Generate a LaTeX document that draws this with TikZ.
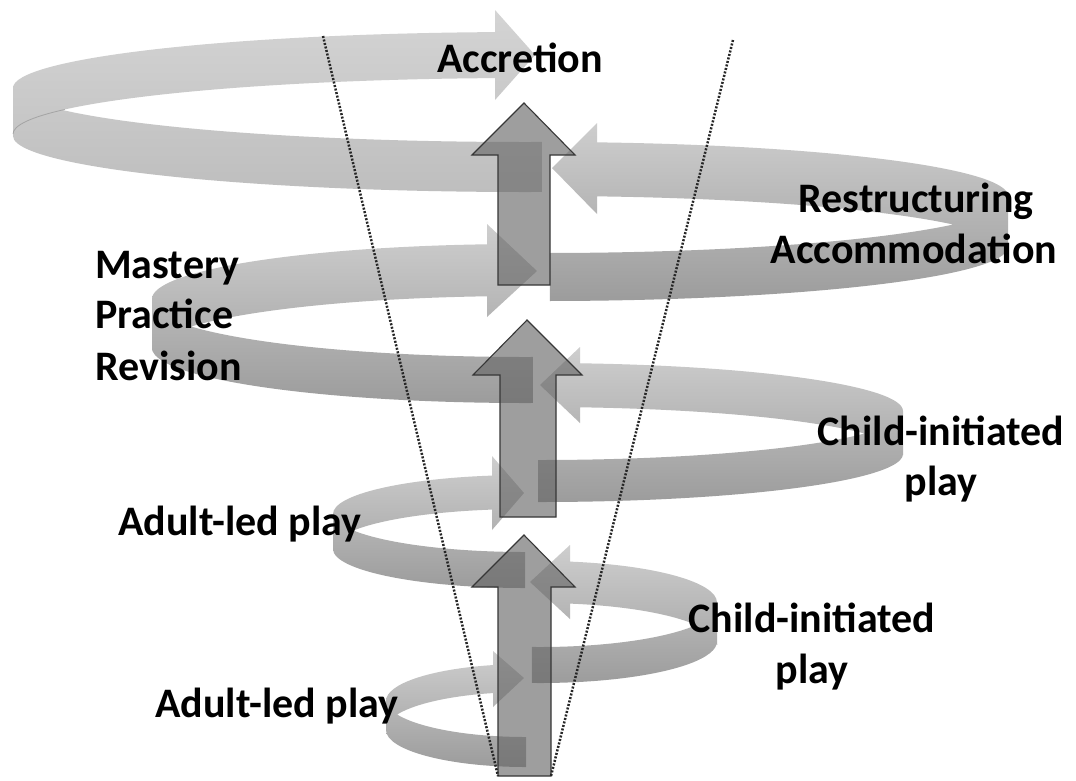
\documentclass[tikz,border=0pt]{standalone}
\usepackage{fontspec}
\setmainfont{Carlito}
\usetikzlibrary{calc}
\definecolor{rlight}{RGB}{206,206,206}
\definecolor{rdark}{RGB}{156,156,156}
\definecolor{rtop}{RGB}{212,212,212}
\definecolor{rtopb}{RGB}{190,190,190}
\definecolor{arrowfill}{RGB}{100,100,100}
\definecolor{arrowline}{RGB}{55,55,55}
\begin{document}
\begin{tikzpicture}[x=1pt,y=1pt,
  ribbon/.style={top color=rlight, bottom color=rdark},
  ribbontop/.style={top color=rtop, bottom color=rtopb},
  uparrow/.style={fill=arrowfill, fill opacity=0.62, draw=arrowline, line width=1.1pt, line join=miter},
  guide/.style={line width=2.5pt, dash pattern=on 2pt off 1.6pt, black!85},
  fold/.style={draw=black!45, line width=0.8pt, draw opacity=0.6},
  txt/.style={font=\bfseries\fontsize{42}{50}\selectfont, inner sep=0pt, text=black}]

\fill[white] (0,0) rectangle (1076,-780);
\useasboundingbox (0,0) rectangle (1076,-780);

% ---------- spiral ribbons ----------
% L1 (bottom, left turn)
\shade[ribbon]
  ($(526,-715)+(270:140 and 37)+(0,15)$) arc[start angle=270,end angle=180,x radius=140pt,y radius=37pt]
     -- ++(0,-30) arc[start angle=180,end angle=270,x radius=140pt,y radius=37pt] -- cycle
  ($(526,-715)+(103.6:140 and 37)+(0,14)$) arc[start angle=103.6,end angle=180,x radius=140pt,y radius=37pt]
     -- ++(0,-28) arc[start angle=180,end angle=103.6,x radius=140pt,y radius=37pt] -- cycle
  (493,-651) -- (493,-707) -- (524,-678) -- cycle;

% R1 (right turn)
\shade[ribbon]
  ($(540,-623.5)+(0:177 and 41.5)+(0,18)$) arc[start angle=360,end angle=267.4,x radius=177pt,y radius=41.5pt]
     -- ++(0,-36) arc[start angle=267.4,end angle=360,x radius=177pt,y radius=41.5pt] -- cycle
  ($(540,-623.5)+(0:177 and 41.5)+(0,21)$) arc[start angle=0,end angle=80.2,x radius=177pt,y radius=41.5pt]
     -- ++(0,-42) arc[start angle=80.2,end angle=0,x radius=177pt,y radius=41.5pt] -- cycle
  (570,-545) -- (530,-582) -- (570,-619) -- cycle;

% L2
\shade[ribbon]
  ($(525,-531)+(270:192 and 39)+(0,18)$) arc[start angle=270,end angle=180,x radius=192pt,y radius=39pt]
     -- ++(0,-36) arc[start angle=180,end angle=270,x radius=192pt,y radius=39pt] -- cycle
  ($(525,-531)+(99.9:192 and 39)+(0,17)$) arc[start angle=99.9,end angle=180,x radius=192pt,y radius=39pt]
     -- ++(0,-34) arc[start angle=180,end angle=99.9,x radius=192pt,y radius=39pt] -- cycle
  (492,-456) -- (492,-530) -- (524,-493) -- cycle;

% R2
\shade[ribbon]
  ($(540,-433)+(0:363 and 48)+(0,21)$) arc[start angle=360,end angle=269.7,x radius=363pt,y radius=48pt]
     -- ++(0,-42) arc[start angle=269.7,end angle=360,x radius=363pt,y radius=48pt] -- cycle
  ($(540,-433)+(0:363 and 48)+(0,22)$) arc[start angle=0,end angle=83.67,x radius=363pt,y radius=48pt]
     -- ++(0,-44) arc[start angle=83.67,end angle=0,x radius=363pt,y radius=48pt] -- cycle
  (580,-347) -- (540,-385) -- (580,-423) -- cycle;

% L3
\shade[ribbon]
  ($(525,-325)+(271.2:373 and 55)+(0,23)$) arc[start angle=271.2,end angle=180,x radius=373pt,y radius=55pt]
     -- ++(0,-46) arc[start angle=180,end angle=271.2,x radius=373pt,y radius=55pt] -- cycle
  ($(525,-325)+(95.85:373 and 55)+(0,26)$) arc[start angle=95.85,end angle=180,x radius=373pt,y radius=55pt]
     -- ++(0,-52) arc[start angle=180,end angle=95.85,x radius=373pt,y radius=55pt] -- cycle
  (487,-224) -- (487,-317) -- (537,-271) -- cycle;

% R3
\shade[ribbon]
  ($(545,-223)+(0:463 and 54)+(0,24)$) arc[start angle=360,end angle=270.6,x radius=463pt,y radius=54pt]
     -- ++(0,-48) arc[start angle=270.6,end angle=360,x radius=463pt,y radius=54pt] -- cycle
  ($(545,-223)+(0:463 and 54)+(0,27)$) arc[start angle=0,end angle=83.55,x radius=463pt,y radius=54pt]
     -- ++(0,-54) arc[start angle=83.55,end angle=0,x radius=463pt,y radius=54pt] -- cycle
  (597,-123) -- (552,-168) -- (597,-214) -- cycle;

% L4 (top)
\shade[ribbontop]
  ($(525,-111)+(271.9:512 and 56)+(0,25)$) arc[start angle=271.9,end angle=180,x radius=512pt,y radius=56pt]
     -- ++(0,-50) arc[start angle=180,end angle=271.9,x radius=512pt,y radius=56pt] -- cycle
  ($(525,-111)+(93.36:512 and 56)+(0,23)$) arc[start angle=93.36,end angle=180,x radius=512pt,y radius=56pt]
     -- ++(0,-46) arc[start angle=180,end angle=93.36,x radius=512pt,y radius=56pt] -- cycle
  (495,-10) -- (495,-100) -- (535,-55) -- cycle;
% fold line where the top ribbon turns over
\draw[fold] ($(525,-111)+(154:512 and 56)+(0,-23)$) arc[start angle=154,end angle=180,x radius=512pt,y radius=56pt];

% ---------- vertical arrows ----------
\draw[uparrow] (498,-776) -- (498,-587) -- (472,-587) -- (524,-535) -- (575,-587) -- (551,-587) -- (551,-776) -- cycle;
\draw[uparrow] (500,-517) -- (500,-375) -- (473,-375) -- (527,-320) -- (582,-375) -- (556,-375) -- (556,-517) -- cycle;
\draw[uparrow] (498,-285) -- (498,-155) -- (472,-155) -- (524,-103) -- (575,-155) -- (550,-155) -- (550,-285) -- cycle;

% ---------- dotted guide lines ----------
\coordinate (gl1) at (323,-36);
\coordinate (gl2) at (498,-776);
\coordinate (gr1) at (733,-40);
\coordinate (gr2) at (551,-776);
\draw[guide] (gl1) -- (gl2);
\draw[guide] (gr1) -- (gr2);

% ---------- labels ----------
\node[txt, anchor=base west] (accretion) at (437,-72) {Accretion};
\node[txt, anchor=base] (restr) at (916,-212) {Restructuring};
\node[txt, anchor=base] (accom) at (914,-263) {Accommodation};
\node[txt, anchor=base west] (mastery) at (95,-278) {Mastery};
\node[txt, anchor=base west] (practice) at (95,-328) {Practice};
\node[txt, anchor=base west] (revision) at (95,-380) {Revision};
\node[txt, anchor=base] (childA) at (941,-445) {Child-initiated};
\node[txt, anchor=base] (playA) at (941,-495) {play};
\node[txt, anchor=base west] (adultA) at (118,-535) {Adult-led play};
\node[txt, anchor=base] (childB) at (812,-632) {Child-initiated};
\node[txt, anchor=base] (playB) at (812,-683) {play};
\node[txt, anchor=base west] (adultB) at (155,-717) {Adult-led play};
\end{tikzpicture}
\end{document}
